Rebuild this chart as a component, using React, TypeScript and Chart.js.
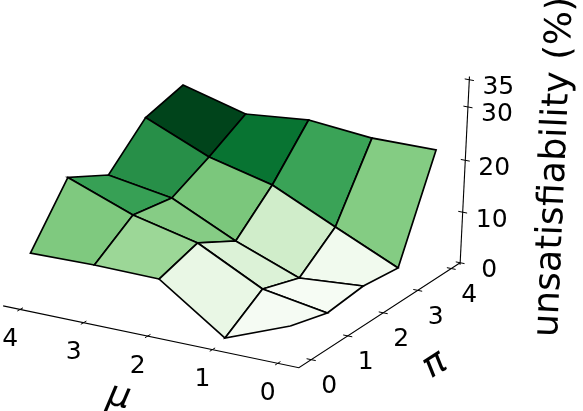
import React, { useEffect, useRef } from "react";
import { Chart, registerables } from "chart.js";

Chart.register(...registerables);

const muTicks = [0, 1, 2, 3, 4];
const piTicks = [0, 1, 2, 3, 4];
const zTicks = [0, 10, 20, 30, 35];

// unsatisfiability (%) — rows are mu = 0..4, columns pi = 0..4
const zMu0 = [5.63, 3.62, 4.43, 3.61, 22.26];
const zMu1 = [0.72, 5.7, 3.47, 9.15, 22.2];
const zMu2 = [9.45, 12.0, 8.17, 14.85, 23.33];
const zMu3 = [9.6, 14.85, 14.0, 17.84, 22.2];
const zMu4 = [9.39, 19.49, 16.0, 23.0, 25.45];
const surface = [zMu0, zMu1, zMu2, zMu3, zMu4];

// face colours — rows are pi band, columns mu band (mu 0-1 .. mu 3-4)
const facePi01 = ["#f5fbf3", "#e9f7e5", "#9cd797", "#7fc97f"];
const facePi12 = ["#f6fcf4", "#dcf2d7", "#86cc85", "#37a055"];
const facePi23 = ["#f1faee", "#d0edca", "#7bc77c", "#278f48"];
const facePi34 = ["#84cc83", "#3aa357", "#087432", "#00441b"];
const faces = [facePi01, facePi12, facePi23, facePi34];

const muLow = -0.32;
const muHigh = 4.27;
const piLow = -0.33;
const piHigh = 4.27;
const zLow = -0.4;
const zHigh = 35.6;

function project(mu: number, pi: number, z: number) {
  const w = 1 + 0.005 * mu + 0.0147 * pi - 0.0014 * z;
  return {
    x: (290.2 - 64 * mu + 41.6 * pi - 0.38 * z) / w,
    y: (355.3 - 11.85 * mu - 18.8 * pi - 5.66 * z) / w,
  };
}

function lineSet(pts: { x: number; y: number }[], width: number) {
  return {
    data: pts,
    showLine: true,
    pointRadius: 0,
    borderColor: "#000000",
    borderWidth: width,
    fill: false,
    tension: 0,
  };
}

function buildDatasets() {
  const sets: any[] = [];
  // front cells first: Chart.js paints the first dataset last
  for (let p = 0; p < 4; p++) {
    for (let m = 0; m < 4; m++) {
      const corners = [
        project(m, p, surface[m][p]),
        project(m + 1, p, surface[m + 1][p]),
        project(m + 1, p + 1, surface[m + 1][p + 1]),
        project(m, p + 1, surface[m][p + 1]),
        project(m, p, surface[m][p]),
      ];
      sets.push({
        data: corners,
        showLine: true,
        pointRadius: 0,
        borderColor: "#000000",
        borderWidth: 1.7,
        backgroundColor: faces[p][m],
        fill: "shape",
        tension: 0,
      });
    }
  }
  sets.push(lineSet([project(muHigh, piLow, 0), project(muLow, piLow, 0), project(muLow, piHigh, 0)], 1.1));
  sets.push(lineSet([project(muLow, piHigh, zLow), project(muLow, piHigh, zHigh)], 1.1));
  muTicks.forEach((m) => sets.push(lineSet([project(m, piLow - 0.07, 0), project(m, piLow + 0.07, 0)], 1)));
  piTicks.forEach((p) => sets.push(lineSet([project(muLow - 0.07, p, 0), project(muLow + 0.07, p, 0)], 1)));
  zTicks.forEach((z) => sets.push(lineSet([project(muLow - 0.07, piHigh, z), project(muLow + 0.07, piHigh, z)], 1)));
  return sets;
}

const textPlugin = {
  id: "axisText",
  afterDraw(chart: any) {
    const ctx = chart.ctx;
    const scX = chart.scales.x;
    const scY = chart.scales.y;
    const put = (s: string, x: number, y: number, font: string, rot = 0) => {
      ctx.save();
      ctx.translate(x, y);
      ctx.rotate((rot * Math.PI) / 180);
      ctx.font = font;
      ctx.fillStyle = "#000";
      ctx.textAlign = "center";
      ctx.textBaseline = "middle";
      ctx.fillText(s, 0, 0);
      ctx.restore();
    };
    const tickFont = '25px "DejaVu Sans"';
    muTicks.forEach((m) => {
      const q = project(m, piLow, 0);
      put(String(m), scX.getPixelForValue(q.x) - 10, scY.getPixelForValue(q.y) + 30, tickFont);
    });
    piTicks.forEach((p) => {
      const q = project(muLow, p, 0);
      put(String(p), scX.getPixelForValue(q.x) + 18, scY.getPixelForValue(q.y) + 27, tickFont);
    });
    zTicks.forEach((z) => {
      const q = project(muLow, piHigh, z);
      put(String(z), scX.getPixelForValue(q.x) + 29, scY.getPixelForValue(q.y) + 8, tickFont);
    });
    put("μ", 119, 397, 'italic 36px "DejaVu Sans"', 12);
    put("π", 435, 365, 'italic 36px "DejaVu Sans"', -33);
    put("unsatisfiability (%)", 555, 167, '36.5px "DejaVu Sans"', -87.5);
  },
};

export default function App() {
  const ref = useRef<HTMLCanvasElement>(null);
  useEffect(() => {
    document.body.style.margin = "0";
    const chart = new Chart(ref.current!, {
      type: "scatter",
      data: { datasets: buildDatasets() },
      plugins: [textPlugin],
      options: {
        animation: false,
        responsive: false,
        maintainAspectRatio: false,
        layout: { padding: 0 },
        plugins: { legend: { display: false }, tooltip: { enabled: false } },
        scales: {
          x: { type: "linear", display: false, min: 0, max: 583 },
          y: { type: "linear", display: false, min: 0, max: 411, reverse: true },
        },
      },
    } as any);
    return () => chart.destroy();
  }, []);
  return <canvas ref={ref} width={583} height={411} style={{ display: "block" }} />;
}
